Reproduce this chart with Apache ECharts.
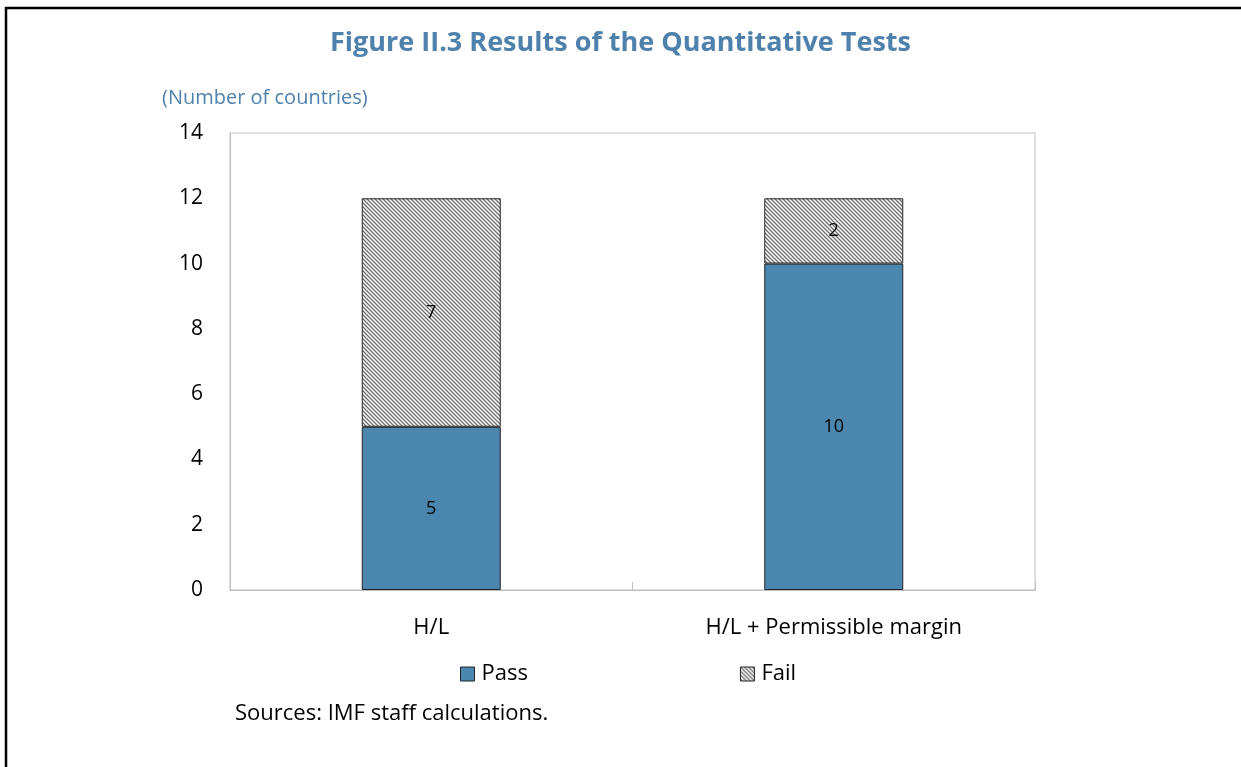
<!DOCTYPE html>
<html>
<head>
<meta charset="utf-8">
<script src="https://cdn.jsdelivr.net/npm/echarts@6/dist/echarts.min.js"></script>
<style>
  html, body { margin: 0; padding: 0; background: #fff; }
  #chart { width: 1241px; height: 767px; }
</style>
</head>
<body>
<div id="chart"></div>
<script>
// Categories and stacked counts
const categories = ['H/L', 'H/L + Permissible margin'];
const passValues = [5, 10];
const failValues = [7, 2];
const yTicks = [0, 2, 4, 6, 8, 10, 12, 14];

const FONT = '"Open Sans", "Noto Sans", sans-serif';
const BLUE = '#4a86ad';
const TITLE_BLUE = '#4f81ad';

// Diagonal hatch tile used for the "Fail" segments
function hatchTile() {
  const c = document.createElement('canvas');
  c.width = 4; c.height = 4;
  const g = c.getContext('2d');
  g.fillStyle = '#ffffff';
  g.fillRect(0, 0, 4, 4);
  g.strokeStyle = '#6e6e6e';
  g.lineWidth = 1.3;
  g.beginPath();
  g.moveTo(-1, -1); g.lineTo(5, 5);
  g.moveTo(-1, 3); g.lineTo(1, 5);
  g.moveTo(3, -1); g.lineTo(5, 1);
  g.stroke();
  return c;
}
const hatch = { image: hatchTile(), repeat: 'repeat' };

const chart = echarts.init(document.getElementById('chart'), null, { renderer: 'canvas' });

const labelStyle = { show: true, position: 'inside', color: '#000', fontSize: 18, fontFamily: FONT };

chart.setOption({
  animation: false,
  backgroundColor: '#fff',
  title: {
    text: 'Figure II.3 Results of the Quantitative Tests',
    left: 'center',
    top: 25,
    textStyle: { color: TITLE_BLUE, fontSize: 27, fontWeight: 'bold', fontFamily: FONT }
  },
  legend: {
    left: 455,
    top: 658,
    itemWidth: 14,
    itemHeight: 14,
    itemGap: 212,
    textStyle: { color: '#000', fontSize: 22, fontFamily: FONT, padding: [0, 0, 0, 2] },
    data: [
      { name: 'Pass', icon: 'rect', itemStyle: { color: BLUE, borderColor: '#222', borderWidth: 1 } },
      { name: 'Fail', icon: 'rect', itemStyle: { color: hatch, borderColor: '#222', borderWidth: 1 } }
    ]
  },
  grid: {
    left: 230, right: 206, top: 133, bottom: 177,
    show: true, borderColor: '#bfbfbf', borderWidth: 1, backgroundColor: 'transparent'
  },
  xAxis: {
    type: 'category',
    data: categories,
    axisLine: { show: true, lineStyle: { color: '#bfbfbf', width: 1 } },
    axisTick: { show: true, inside: true, length: 8, lineStyle: { color: '#bfbfbf' } },
    axisLabel: { color: '#000', fontSize: 22, fontFamily: FONT, margin: 27 }
  },
  yAxis: {
    type: 'value',
    min: 0, max: 14, interval: 2,
    axisLine: { show: true, lineStyle: { color: '#bfbfbf' } },
    axisTick: { show: false },
    splitLine: { show: false },
    axisLabel: {
      color: '#000', fontSize: 21, fontFamily: FONT, margin: 27,
      formatter: v => (yTicks.indexOf(v) >= 0 ? String(v) : '')
    },
    name: '(Number of countries)',
    nameLocation: 'end',
    nameGap: 0,
    nameTextStyle: {
      color: TITLE_BLUE, fontSize: 20, fontFamily: FONT,
      align: 'left', verticalAlign: 'bottom', padding: [0, 0, 25, -68]
    }
  },
  series: [
    {
      name: 'Pass', type: 'bar', stack: 'total', barWidth: 139,
      data: passValues,
      itemStyle: { color: BLUE, borderColor: '#222', borderWidth: 1 },
      label: labelStyle
    },
    {
      name: 'Fail', type: 'bar', stack: 'total', barWidth: 139,
      data: failValues,
      itemStyle: { color: hatch, borderColor: '#222', borderWidth: 1 },
      label: labelStyle
    }
  ],
  graphic: [
    {
      type: 'polyline',
      shape: { points: [[6, 800], [6, 8], [1300, 8]] },
      style: { stroke: '#000', lineWidth: 2.5, fill: null }
    },
    {
      type: 'text',
      left: 235, top: 703,
      style: { text: 'Sources: IMF staff calculations.', fill: '#000', fontSize: 22, fontFamily: FONT }
    }
  ]
});
</script>
</body>
</html>
